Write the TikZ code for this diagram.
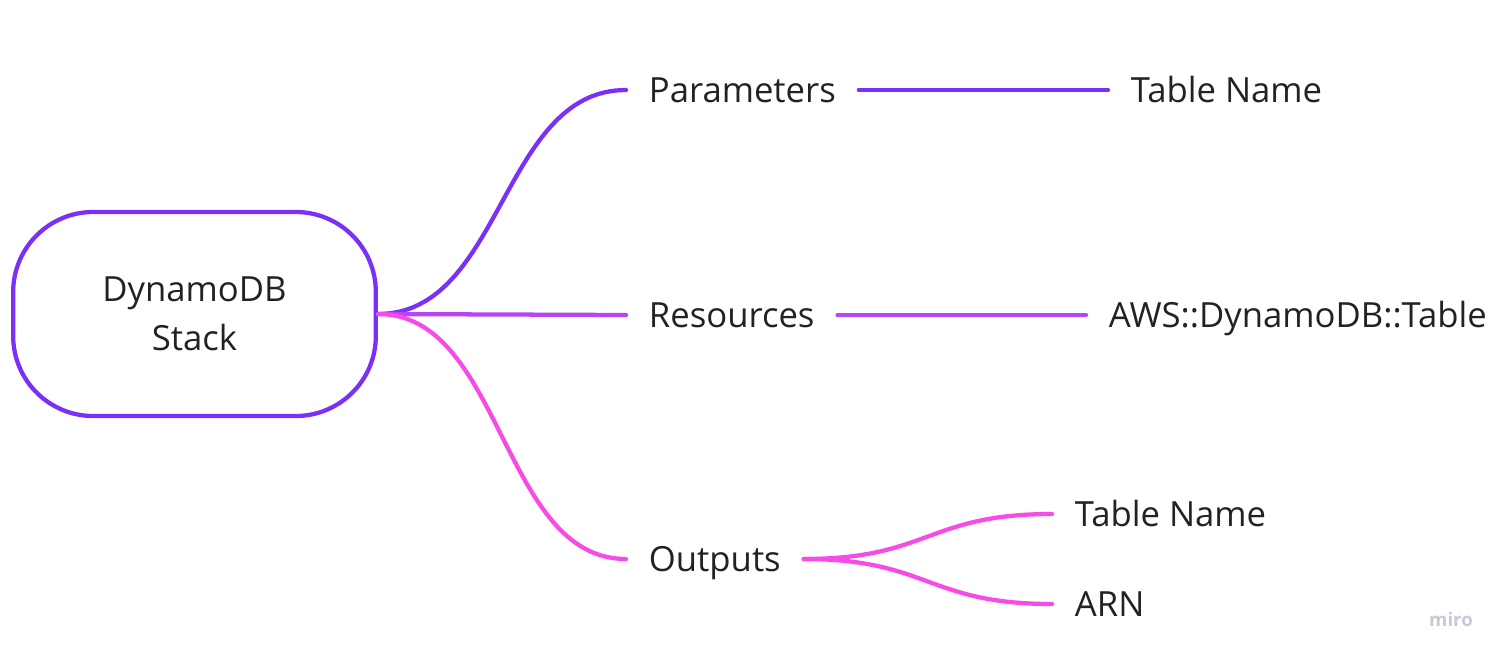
\documentclass[tikz,border=0pt]{standalone}
\usepackage{fontspec}
\setmainfont{Open Sans}
\usetikzlibrary{positioning}
\definecolor{paramcol}{HTML}{7B2FF7}
\definecolor{rescol}{HTML}{B845F5}
\definecolor{outcol}{HTML}{F64BE4}
\definecolor{txtcol}{HTML}{222222}
\definecolor{markcol}{HTML}{C8C8D6}
\tikzset{
  rootbox/.style={draw=paramcol, line width=3.2pt, rounded corners=60pt, minimum width=272pt, minimum height=153pt, align=center, text=txtcol, font=\fontsize{26}{37}\selectfont},
  leaf/.style={anchor=west, inner xsep=17pt, inner ysep=0pt, text height=18.6pt, text depth=0pt, text=txtcol, font=\fontsize{26}{32}\selectfont},
  branch/.style={line width=3.2pt, line cap=round}
}
\begin{document}
\begin{tikzpicture}[x=0.75pt,y=-0.75pt]
\useasboundingbox (0,0) rectangle (1510,661);

\node[rootbox] (root) at (194.5,314) {DynamoDB\\Stack};

% first level
\node[leaf] (param) at (626,90) {Parameters};
\node[leaf] (res) at (626,315) {Resources};
\node[leaf] (out) at (626,559) {Outputs};

% second level
\node[leaf] (tname1) at (1108,90) {Table Name};
\node[leaf] (awstab) at (1086,315) {AWS::DynamoDB::Table};
\node[leaf] (tname2) at (1052,514) {Table Name};
\node[leaf] (arn) at (1052,604) {ARN};

\draw[branch, paramcol] (root.east) .. controls +(125,0) and +(-125,0) .. (param.west);
\draw[branch, rescol] (root.east) -- (res.west);
\draw[branch, outcol] (root.east) .. controls +(125,0) and +(-125,0) .. (out.west);

\draw[branch, paramcol] (param.east) -- (tname1.west);
\draw[branch, rescol] (res.east) -- (awstab.west);
\draw[branch, outcol] (out.east) .. controls +(125,0) and +(-125,0) .. (tname2.west);
\draw[branch, outcol] (out.east) .. controls +(125,0) and +(-125,0) .. (arn.west);

\node[text=markcol, font=\fontsize{14}{16}\selectfont\bfseries] (brand) at (1451,619) {miro};
\end{tikzpicture}
\end{document}
